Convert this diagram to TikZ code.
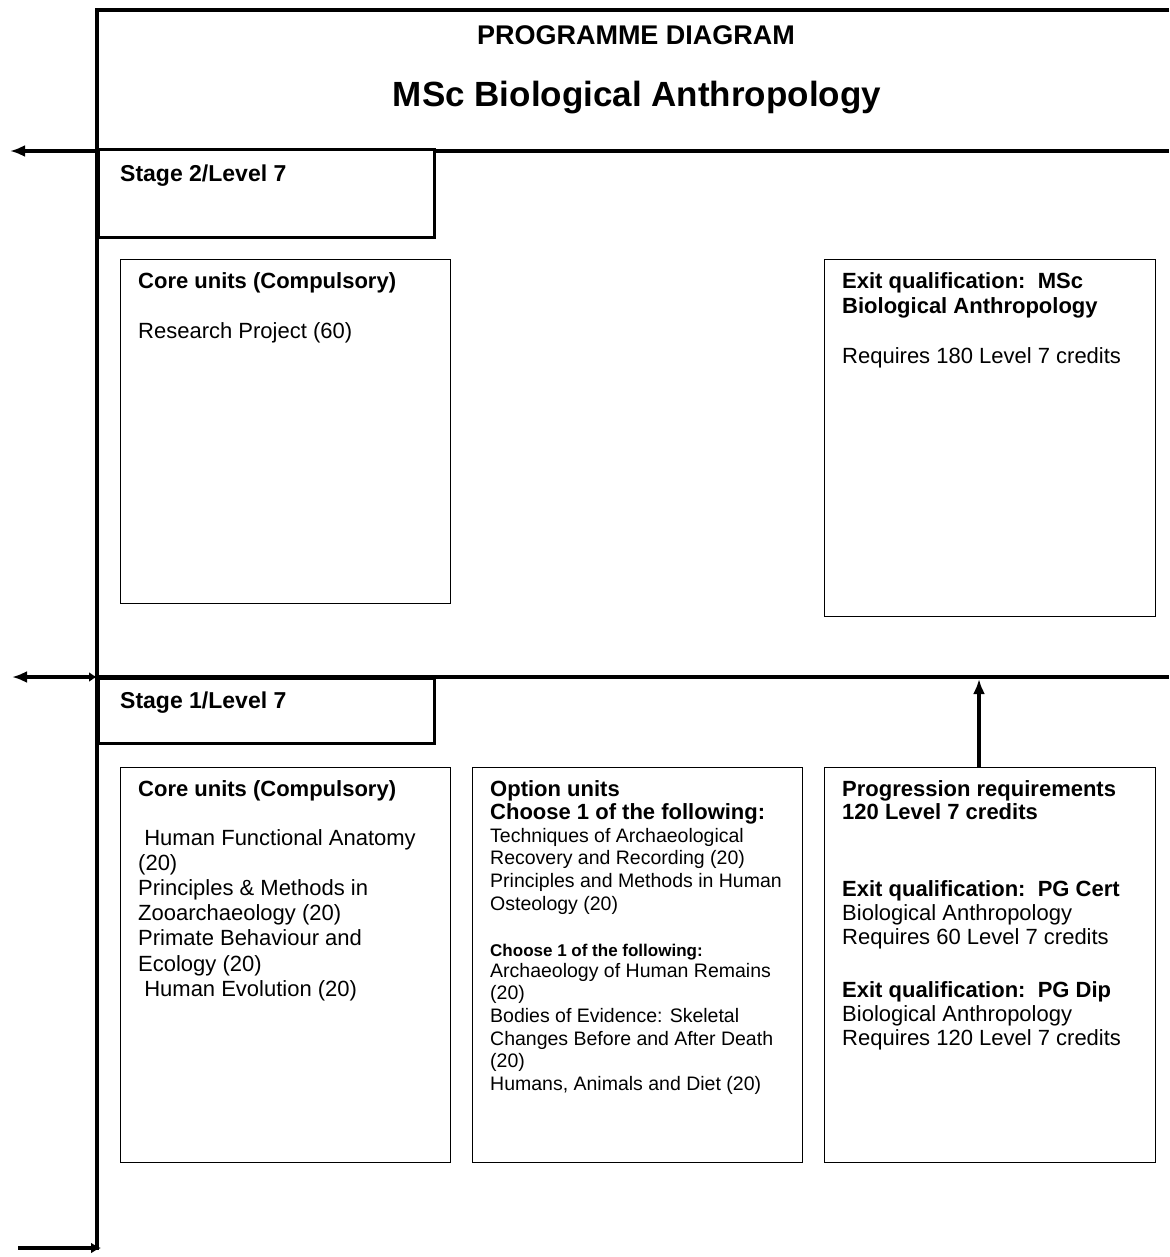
\documentclass[tikz,border=0pt]{standalone}
\usepackage{fontspec}
\setmainfont{Liberation Sans}
\usetikzlibrary{arrows.meta}
\newcommand\boxlines[1]{\begin{tabular}[t]{@{}l@{}}#1\end{tabular}}
\begin{document}
\begin{tikzpicture}[x=1pt,y=-1pt,
  frameline/.style={line width=3.2pt},
  unitbox/.style={draw, line width=1.3pt, anchor=north west, inner sep=0pt},
  stagebox/.style={draw, line width=2.8pt, anchor=north west, inner sep=0pt, minimum width=336pt},
  txt/.style={anchor=base west, inner sep=0pt},
  bigtip/.style={-{Latex[length=15pt,width=12pt]}},
  body/.style={font=\fontsize{22}{25.2}\selectfont},
  small/.style={font=\fontsize{19.5}{22.7}\selectfont},
  tiny/.style={font=\bfseries\fontsize{17}{20}\selectfont}]
\useasboundingbox (0,0) rectangle (1169,1257);

% outer frame
\coordinate (ftop) at (97,10);
\coordinate (ftopr) at (1169,10);
\coordinate (fbot) at (97,1250);
\draw[frameline] (ftopr) -- (ftop) -- (fbot);

% titles
\node[anchor=base, inner sep=0pt, font=\bfseries\fontsize{27}{30}\selectfont] (t1) at (636,45) {PROGRAMME DIAGRAM};
\node[anchor=base, inner sep=0pt, font=\bfseries\fontsize{35}{40}\selectfont] (t2) at (637,107) {MSc Biological Anthropology};

% stage 2 line and box
\coordinate (l2l) at (97,151);
\coordinate (l2r) at (1169,151);
\coordinate (a2) at (10,151);
\draw[frameline] (l2l) -- (l2r);
\draw[frameline, bigtip] (l2l) -- (a2);
\node[stagebox, minimum height=88pt, fill=white] (s2) at (97,148) {};
\node[txt, font=\bfseries\fontsize{23}{26}\selectfont] (s2t) at (120,182) {Stage 2/Level 7};

% stage 2 units
\node[unitbox, minimum width=330pt, minimum height=344pt] (core2) at (120,259) {};
\node[txt, body] (core2t) at (138,288) {\boxlines{\textbf{Core units (Compulsory)}\\ \\ Research Project (60)}};

\node[unitbox, minimum width=331pt, minimum height=357pt] (exit2) at (824,259) {};
\node[txt, body] (exit2t) at (842,288) {\boxlines{\textbf{Exit qualification:\ \ MSc}\\ \textbf{Biological Anthropology}\\ \\ Requires 180 Level 7 credits}};

% stage 1 line and box
\coordinate (l1l) at (97,677);
\coordinate (l1r) at (1169,677);
\coordinate (a1) at (12,677);
\draw[frameline] (l1l) -- (l1r);
\draw[frameline, {Latex[length=8pt,width=10pt]}-{Latex[length=15pt,width=12pt]}] (l1l) -- (a1);
\node[stagebox, minimum height=65pt, fill=white] (s1) at (97,677) {};
\node[txt, font=\bfseries\fontsize{23}{26}\selectfont] (s1t) at (120,708) {Stage 1/Level 7};

% stage 1 units
\node[unitbox, minimum width=330pt, minimum height=395pt] (core1) at (120,767) {};
\node[txt, body] (core1h) at (138,796) {\textbf{Core units (Compulsory)}};
\node[txt, body] (core1t) at (138,845) {\boxlines{\ Human Functional Anatomy\\ (20)\\ Principles \& Methods in\\ Zooarchaeology (20)\\ Primate Behaviour and\\ Ecology (20)\\ \ Human Evolution (20)}};

\node[unitbox, minimum width=330pt, minimum height=395pt] (opt) at (472,767) {};
\node[txt, font=\bfseries\fontsize{22}{23}\selectfont] (opth) at (490,796) {\boxlines{Option units\\ Choose 1 of the following:}};
\node[txt, small] (optl1) at (490,842) {\boxlines{Techniques of Archaeological\\ Recovery and Recording (20)\\ Principles and Methods in Human\\ Osteology (20)}};
\node[txt, tiny] (opts) at (490,956) {Choose 1 of the following:};
\node[txt, small] (optl2) at (490,977) {\boxlines{Archaeology of Human Remains\\ (20)\\ Bodies of Evidence: Skeletal\\ Changes Before and After Death\\ (20)\\ Humans, Animals and Diet (20)}};

\node[unitbox, minimum width=331pt, minimum height=395pt] (prog) at (824,767) {};
\node[txt, font=\bfseries\fontsize{22}{23}\selectfont] (progh) at (842,796) {\boxlines{Progression requirements\\ 120 Level 7 credits}};
\node[txt, body, font=\fontsize{22}{24.3}\selectfont] (progc) at (842,896) {\boxlines{\textbf{Exit qualification:\ \ PG Cert}\\ Biological Anthropology\\ Requires 60 Level 7 credits}};
\node[txt, body, font=\fontsize{22}{24.3}\selectfont] (progd) at (842,997) {\boxlines{\textbf{Exit qualification:\ \ PG Dip}\\ Biological Anthropology\\ Requires 120 Level 7 credits}};

% progression arrow
\coordinate (upend) at (979,679);
\draw[frameline, bigtip] (prog.north -| upend) -- (upend);

% bottom arrow
\coordinate (b0) at (18,1248);
\coordinate (b1) at (101,1248);
\draw[frameline, -{Latex[length=10pt,width=11pt]}] (b0) -- (b1);
\end{tikzpicture}
\end{document}
